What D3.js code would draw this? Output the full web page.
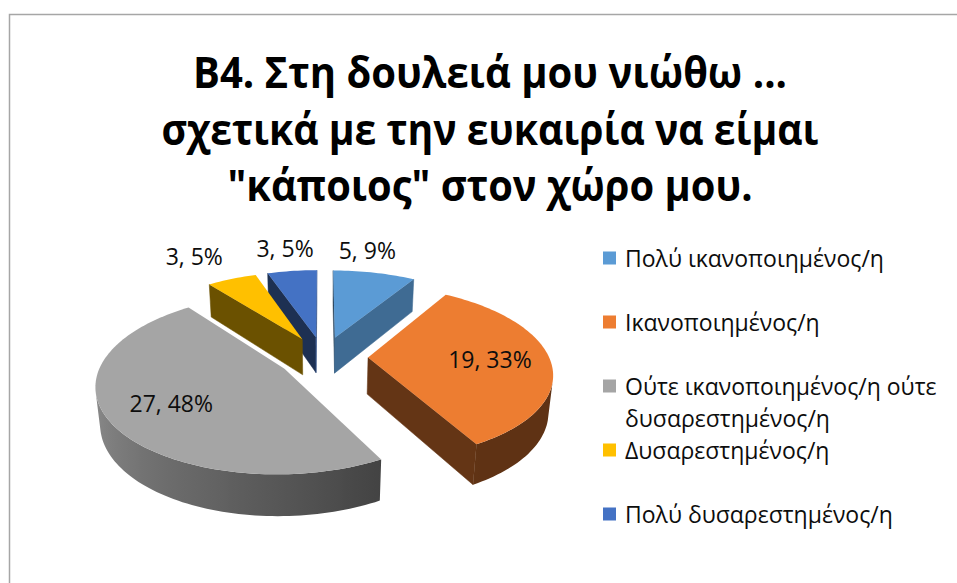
<!DOCTYPE html>
<html>
<head>
<meta charset="utf-8">
<script src="https://cdn.jsdelivr.net/npm/d3@7"></script>
<style>
  body { margin: 0; background: #fff; }
  svg { display: block; }
  text { font-family: "Open Sans", "Noto Sans", "DejaVu Sans", sans-serif; }
</style>
</head>
<body>
<svg id="chart" width="957" height="583"></svg>
<script>
// ---- data ----
const titleLines = [
  "B4. Στη δουλειά μου νιώθω ...",
  "σχετικά με την ευκαιρία να είμαι",
  "\"κάποιος\" στον χώρο μου."
];
const categories = [
  "Πολύ ικανοποιημένος/η",
  "Ικανοποιημένος/η",
  "Ούτε ικανοποιημένος/η ούτε δυσαρεστημένος/η",
  "Δυσαρεστημένος/η",
  "Πολύ δυσαρεστημένος/η"
];
const legendLines = [
  ["Πολύ ικανοποιημένος/η"],
  ["Ικανοποιημένος/η"],
  ["Ούτε ικανοποιημένος/η ούτε", "δυσαρεστημένος/η"],
  ["Δυσαρεστημένος/η"],
  ["Πολύ δυσαρεστημένος/η"]
];
const counts = [5, 19, 27, 3, 3];
const percentLabels = ["9%", "33%", "48%", "5%", "5%"];
const colors = ["#5B9BD5", "#ED7D31", "#A5A5A5", "#FFC000", "#4472C4"];

// ---- layout ----
const svg = d3.select("#chart");
const W = 957, H = 583;
const defs = svg.append("defs");

// chart frame
svg.append("rect")
  .attr("x", 9.5).attr("y", 14.5)
  .attr("width", W + 20).attr("height", H + 20)
  .attr("fill", "#fff").attr("stroke", "#A6A6A6").attr("stroke-width", 1.5);

// title
const titleWidths = [594, 657, 525];
svg.append("g").selectAll("text")
  .data(titleLines)
  .join("text")
  .attr("x", 490)
  .attr("y", (d, i) => 88 + i * 56.5)
  .attr("text-anchor", "middle")
  .attr("font-size", 43)
  .attr("font-weight", 700)
  .attr("fill", "#000")
  .attr("textLength", (d, i) => titleWidths[i])
  .attr("lengthAdjust", "spacingAndGlyphs")
  .text(d => d);

// ---- 3D pie geometry ----
const R = 181;          // disc radius
const explode = 45;     // slice explosion distance
const depthH = 42;      // slice thickness
const cam = { cx: 323, cy: 357, alpha: Math.asin(0.464), D: 975 };
const ca = Math.cos(cam.alpha), sa = Math.sin(cam.alpha);
const camPos = [0, -cam.D * ca, cam.D * sa];

// perspective projection of a disc point (X right, Y away from viewer, Z up)
function project(X, Y, Z) {
  const depth = cam.D + Y * ca - Z * sa;
  const f = cam.D / depth;
  return [cam.cx + X * f, cam.cy - (Y * sa + Z * ca) * f];
}
function facesCamera(n, p) {
  const v = [camPos[0] - p[0], camPos[1] - p[1], camPos[2] - p[2]];
  return n[0] * v[0] + n[1] * v[1] + n[2] * v[2] > 0;
}
function shade(hex, k) {
  const c = d3.rgb(hex);
  return d3.rgb(c.r * k, c.g * k, c.b * k).formatHex();
}
// brightness of the curved side as a function of its facing angle (degrees)
function sideLight(deg) {
  const t = Math.max(0, Math.min(1, (deg - 150) / 108));
  return 0.40 + 0.46 * t;
}
const line = d3.line().curve(d3.curveLinearClosed);

const arcs = d3.pie().sort(null).value(d => d)(counts);
const total = d3.sum(counts);

const slices = arcs.map((a, i) => {
  const mid = (a.startAngle + a.endAngle) / 2;
  const ox = explode * Math.sin(mid), oy = explode * Math.cos(mid);
  const steps = Math.max(2, Math.ceil((a.endAngle - a.startAngle) / (2 * Math.PI) * 240));
  const thetas = d3.range(steps + 1).map(k => a.startAngle + (a.endAngle - a.startAngle) * k / steps);
  const rimPt = (t, z) => [ox + R * Math.sin(t), oy + R * Math.cos(t), z];
  const sortY = oy + 0.6 * R * Math.cos(mid);
  return { a, i, mid, ox, oy, thetas, rimPt, sortY };
});

const pieG = svg.append("g");
slices.slice().sort((p, q) => q.sortY - p.sortY).forEach(s => {
  const g = pieG.append("g");
  const base = colors[s.i];
  const apex = z => [s.ox, s.oy, z];
  const P = p => project(p[0], p[1], p[2]);

  // flat cut faces along the two radial edges
  const cuts = [
    { t: s.a.startAngle, n: [-Math.cos(s.a.startAngle), Math.sin(s.a.startAngle), 0] },
    { t: s.a.endAngle, n: [Math.cos(s.a.endAngle), -Math.sin(s.a.endAngle), 0] }
  ];
  cuts.forEach(c => {
    if (!facesCamera(c.n, apex(0))) return;
    const pts = [apex(0), s.rimPt(c.t, 0), s.rimPt(c.t, -depthH), apex(-depthH)].map(P);
    const k = c.n[0] > 0.3 ? 0.69 : 0.42;
    g.append("path").attr("d", line(pts))
      .attr("fill", shade(base, k)).attr("stroke", shade(base, k)).attr("stroke-width", 0.5);
  });

  // curved outer side: visible run of the rim as one band with a horizontal gradient
  const vis = s.thetas.filter(t => facesCamera([Math.sin(t), Math.cos(t), 0], s.rimPt(t, 0)));
  if (vis.length > 1) {
    const topPts = vis.map(t => P(s.rimPt(t, 0)));
    const botPts = vis.map(t => P(s.rimPt(t, -depthH))).reverse();
    const xs = topPts.map(p => p[0]);
    const x0 = d3.min(xs), x1 = d3.max(xs);
    const gid = "side" + s.i;
    const grad = defs.append("linearGradient").attr("id", gid)
      .attr("gradientUnits", "userSpaceOnUse")
      .attr("x1", x0).attr("x2", x1).attr("y1", 0).attr("y2", 0);
    const stops = vis.map((t, k) => ({ off: (topPts[k][0] - x0) / Math.max(1, x1 - x0), col: shade(base, sideLight(t * 180 / Math.PI)) }))
      .sort((p, q) => p.off - q.off);
    grad.selectAll("stop").data(stops).join("stop")
      .attr("offset", d => d.off).attr("stop-color", d => d.col);
    g.append("path").attr("d", line(topPts.concat(botPts)))
      .attr("fill", `url(#${gid})`);
  }

  // top face
  const top = [apex(0)].concat(s.thetas.map(t => s.rimPt(t, 0))).map(P);
  g.append("path").attr("d", line(top)).attr("fill", base);
});

// data labels
const labelG = svg.append("g");
slices.forEach(s => {
  const frac = s.a.value / total;
  const txt = `${s.a.value}, ${percentLabels[s.i]}`;
  let x, y, anchor = "middle";
  if (frac >= 0.15) {
    const r = 0.67 * R;
    [x, y] = project(s.ox + r * Math.sin(s.mid), s.oy + r * Math.cos(s.mid), 0);
  } else {
    const [rx, ry] = project(s.ox + R * Math.sin(s.mid), s.oy + R * Math.cos(s.mid), 0);
    const [cx0, cy0] = project(0, 0, 0);
    const dx = rx - cx0;
    x = rx - 7; y = ry - 23;
    if (dx / Math.hypot(dx, ry - cy0) < -0.6) { anchor = "end"; x = rx - 9; }
  }
  labelG.append("text")
    .attr("x", x).attr("y", y)
    .attr("text-anchor", anchor)
    .attr("dominant-baseline", "central")
    .attr("font-size", 23)
    .attr("fill", "#0d0d0d")
    .text(txt);
});

// legend
const legend = svg.append("g");
const rowY = d3.scaleLinear().domain([0, 1]).range([258, 322]);
legendLines.forEach((lines, i) => {
  const y = rowY(i);
  legend.append("rect")
    .attr("x", 603).attr("y", y - 6.5)
    .attr("width", 13).attr("height", 13)
    .attr("fill", colors[i]);
  lines.forEach((ln, j) => {
    legend.append("text")
      .attr("x", 625).attr("y", y + j * 32)
      .attr("dominant-baseline", "central")
      .attr("font-size", 23)
      .attr("fill", "#0d0d0d")
      .text(ln);
  });
});
</script>
</body>
</html>
